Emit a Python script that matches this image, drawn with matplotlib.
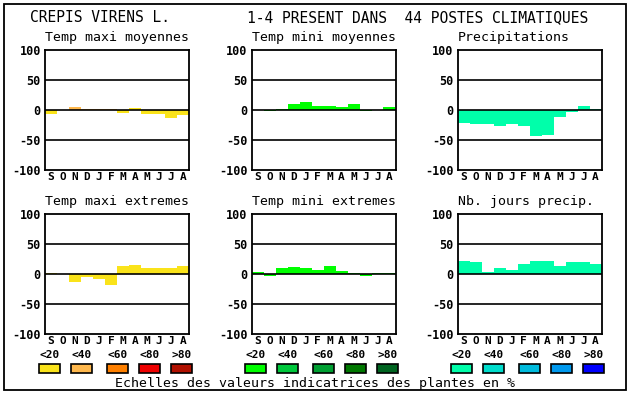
import matplotlib
matplotlib.use("Agg")
import matplotlib.pyplot as plt
from matplotlib.patches import Rectangle

W, H = 630, 394

months = ["S", "O", "N", "D", "J", "F", "M", "A", "M", "J", "J", "A"]
legend_labels = ["<20", "<40", "<60", "<80", ">80"]

# values (percent)
tmax_moy = [-6, 0, 5, 2, 2, 2, -5, 3, -6, -6, -13, -8]
tmin_moy = [0, -2, 2, 10, 13, 7, 7, 5, 10, -2, 0, 5]
precip = [-21, -23, -23, -26, -23, -26, -44, -41, -11, -3, 6, 2]
tmax_ext = [2, 0, -13, -5, -8, -18, 13, 15, 10, 10, 10, 13]
tmin_ext = [3, -3, 10, 12, 10, 7, 13, 5, 2, -3, 2, 2]
jours_precip = [22, 20, 3, 10, 7, 17, 22, 22, 13, 20, 20, 17]

# colour class of each bar (0 = <20, 1 = <40 ...)
tmax_moy_cls = [0, 0, 1, 1, 1, 1, 0, 0, 0, 0, 0, 0]
zero_cls = [0] * 12

warm = ["#fae31a", "#ffb84d", "#ff8000", "#ee0000", "#b01000"]
green = ["#00ff00", "#00c83c", "#00a032", "#007800", "#006420"]
blue = ["#00ffaa", "#00ddcc", "#00bbdd", "#0099ee", "#0000ff"]

panels = [
    ("Temp maxi moyennes", tmax_moy, tmax_moy_cls, warm, 45, 50),
    ("Temp mini moyennes", tmin_moy, zero_cls, green, 251.5, 50),
    ("Precipitations", precip, zero_cls, blue, 457.5, 50),
    ("Temp maxi extremes", tmax_ext, zero_cls, warm, 45, 214),
    ("Temp mini extremes", tmin_ext, zero_cls, green, 251.5, 214),
    ("Nb. jours precip.", jours_precip, zero_cls, blue, 457.5, 214),
]

mono = "DejaVu Sans Mono"

fig = plt.figure(figsize=(W / 100, H / 100), dpi=100)
fig.patch.set_facecolor("white")


def fx(x):
    return x / W


def fy(y):
    return 1 - y / H


# outer frame
fig.patches.append(Rectangle((fx(4), fy(390)), fx(622), 386 / H,
                             transform=fig.transFigure, fill=False,
                             edgecolor="black", lw=1.3))

fig.text(fx(30), fy(18), "CREPIS VIRENS L.", family=mono, fontsize=10.5,
         va="center", ha="left")
fig.text(fx(247), fy(18), "1-4 PRESENT DANS  44 POSTES CLIMATIQUES",
         family=mono, fontsize=10.5, va="center", ha="left")

for title, vals, cls, pal, x0, y0 in panels:
    ax = fig.add_axes([fx(x0), fy(y0 + 120), 144 / W, 120 / H])
    ax.bar(range(12), vals, width=1.0, color=[pal[c] for c in cls],
           linewidth=0, zorder=1)
    for g in (-50, 0, 50):
        ax.axhline(g, color="black", lw=1.2, zorder=2)
    ax.set_xlim(-0.5, 11.5)
    ax.set_ylim(-100, 100)
    for s in ax.spines.values():
        s.set_linewidth(1.3)
    ax.set_yticks([-100, -50, 0, 50, 100])
    ax.set_yticklabels(["-100", "-50", "0", "50", "100"], family=mono,
                       fontsize=8.5, fontweight="bold")
    ax.set_xticks(range(12))
    ax.set_xticklabels(months, family=mono, fontsize=8, fontweight="bold")
    ax.tick_params(axis="y", length=0, pad=3)
    ax.tick_params(axis="x", length=0, pad=1.5)
    fig.text(fx(x0), fy(y0 - 12), title, family=mono, fontsize=9.5,
             va="center", ha="left")

# legend boxes
legend_x = [[39, 71, 107, 139, 171],
            [245, 277, 313, 345, 377],
            [451, 483, 519, 551, 583]]
for pal, xs in zip([warm, green, blue], legend_x):
    for col, lab, x in zip(pal, legend_labels, xs):
        fig.patches.append(Rectangle((fx(x), fy(373)), 21 / W, 9 / H,
                                     transform=fig.transFigure,
                                     facecolor=col, edgecolor="black",
                                     lw=1.2))
        fig.text(fx(x + 10.5), fy(355), lab, family=mono, fontsize=8,
                 fontweight="bold", ha="center", va="center")

fig.text(fx(315), fy(383), "Echelles des valeurs indicatrices des plantes en %",
         family=mono, fontsize=9.5, ha="center", va="center")

fig.savefig("out.png", dpi=100)
